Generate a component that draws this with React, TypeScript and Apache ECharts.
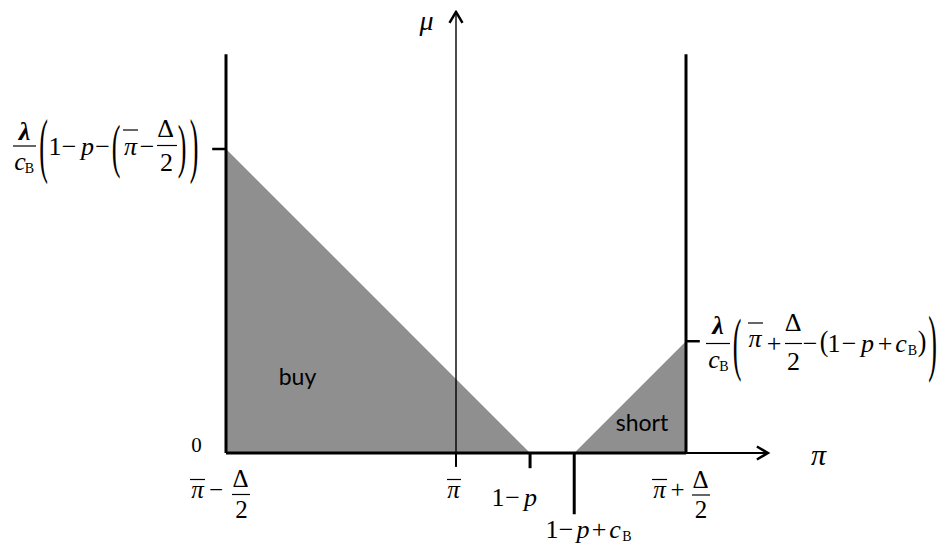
import React, { useEffect, useRef } from 'react';
import * as echarts from 'echarts';

// ---- data (abstract units: π̄ − Δ/2 = 0, π̄ + Δ/2 = 1, λ/c_B = 1) ----
const boundaryX = [0, 1]; // π̄ − Δ/2, π̄ + Δ/2
const piBarX = 0.5; // π̄
const thresholdX = [0.661, 0.757]; // 1 − p, 1 − p + c_B
const lambdaOverCB = 1;
const boundaryTop = 0.867;
const piAxisEnd = 1.178;
const muAxisEnd = 0.959;
const tickDepth = [-0.03, -0.033, -0.133]; // below π̄, 1 − p, 1 − p + c_B
const sideTickLen = 0.03;

const buyTop = lambdaOverCB * (thresholdX[0] - boundaryX[0]);
const shortTop = lambdaOverCB * (boundaryX[1] - thresholdX[1]);

const GRAY = '#8f8f8f';
const UNIT = 460; // px per data unit (for arrow sizes)
const arrowLen = 11 / UNIT;
const arrowHalf = 6.5 / UNIT;

function g(text: string, cx: number, base: number, o: any = {}) {
  const fs = o.fs ?? 26;
  const k = o.sans ? 0.387 : 0.3375;
  const fam = o.sans ? '"Lato"' : '"Liberation Serif"';
  const font = `${o.it ? 'italic ' : ''}${o.bold ? 'bold ' : ''}${fs}px ${fam}`;
  return {
    type: 'text',
    x: cx,
    y: base - k * fs,
    silent: true,
    z: 10,
    style: {
      text,
      font,
      fill: '#000',
      align: 'center',
      verticalAlign: 'middle',
    },
  };
}

function paren(ch: string, cx: number, top: number, bottom: number, fs = 26) {
  const sy = (bottom - top) / (0.87 * fs);
  const anchor = (top + bottom) / 2 - 0.0875 * fs * sy;
  return { ...g(ch, cx, 0, { fs }), y: anchor, scaleY: sy };
}

function hline(x1: number, x2: number, y: number, w = 1.2) {
  return {
    type: 'line',
    silent: true,
    z: 10,
    shape: { x1, y1: y, x2, y2: y },
    style: { stroke: '#000', lineWidth: w },
  };
}

const labelEls: any[] = [
  // left formula  λ/c_B (1 − p − (π̄ − Δ/2))
  g('λ', 24.5, 140, { it: 1, bold: 1 }),
  hline(13, 36, 146),
  g('c', 20, 170, { it: 1 }),
  g('B', 29.5, 173, { fs: 14 }),
  paren('(', 43.5, 120, 182),
  g('1', 55, 155),
  g('−', 69, 155),
  g('p', 87.5, 155, { it: 1 }),
  g('−', 102.5, 155),
  paren('(', 116, 125, 177),
  g('π', 130.5, 155, { it: 1 }),
  hline(123, 138, 130),
  g('−', 147, 155),
  g('Δ', 165.5, 137),
  hline(157, 177, 145.5),
  g('2', 166.5, 171),
  paren(')', 182, 125, 177),
  paren(')', 194, 120, 182),

  // right formula  λ/c_B (π̄ + Δ/2 − (1 − p + c_B))
  g('λ', 718, 334, { it: 1, bold: 1 }),
  hline(706, 730, 343.5),
  g('c', 714, 368, { it: 1 }),
  g('B', 724, 371, { fs: 14 }),
  paren('(', 737, 319, 380),
  g('π', 755, 347, { it: 1 }),
  hline(748, 763, 323),
  g('+', 774, 352),
  g('Δ', 793, 331),
  hline(785, 802, 343.5),
  g('2', 793.5, 370),
  g('−', 810, 352),
  paren('(', 824, 332, 357),
  g('1', 834, 352),
  g('−', 849, 352),
  g('p', 867.5, 352, { it: 1 }),
  g('+', 885, 352),
  g('c', 901, 352, { it: 1 }),
  g('B', 912.5, 355, { fs: 14 }),
  paren(')', 922, 332, 357),
  paren(')', 932.5, 317, 381),

  // axis names and zero
  g('μ', 426.5, 30, { it: 1, fs: 28 }),
  g('π', 818.5, 465, { it: 1, fs: 30 }),
  g('0', 196.5, 452, { fs: 21 }),

  // region labels
  g('buy', 297.5, 385, { sans: 1, fs: 23 }),
  g('short', 642, 431, { sans: 1, fs: 23 }),

  // x labels: π̄ − Δ/2
  g('π', 197.5, 498, { it: 1, fs: 25 }),
  hline(190, 205, 479.5),
  g('−', 216, 498, { fs: 25 }),
  g('Δ', 240.5, 487, { fs: 25 }),
  hline(232, 250, 494.5),
  g('2', 241.5, 518, { fs: 25 }),
  // π̄
  g('π', 453.5, 498, { it: 1, fs: 25 }),
  hline(447, 461, 479.5),
  // 1 − p
  g('1', 498, 506),
  g('−', 512.5, 506),
  g('p', 530.5, 506, { it: 1 }),
  // 1 − p + c_B
  g('1', 552, 538),
  g('−', 566, 538),
  g('p', 583, 538, { it: 1 }),
  g('+', 599, 538),
  g('c', 615, 538, { it: 1 }),
  g('B', 627, 541, { fs: 14 }),
  // π̄ + Δ/2
  g('π', 659.5, 498, { it: 1, fs: 25 }),
  hline(652, 667, 479.5),
  g('+', 677.5, 498, { fs: 25 }),
  g('Δ', 700.5, 488, { fs: 25 }),
  hline(692, 710, 495),
  g('2', 701, 518, { fs: 25 }),
];

function seg(data: number[][], width: number, extra: any = {}) {
  return {
    type: 'line',
    data,
    symbol: 'none',
    silent: true,
    animation: false,
    z: 3,
    lineStyle: { color: '#000', width, cap: 'butt', join: 'miter' },
    ...extra,
  };
}

function area(data: number[][]) {
  return {
    type: 'line',
    data,
    symbol: 'none',
    silent: true,
    z: 1,
    lineStyle: { width: 0, opacity: 0 },
    areaStyle: { color: GRAY, opacity: 1, origin: 0 },
  };
}

export default function App() {
  const ref = useRef<HTMLDivElement>(null);
  useEffect(() => {
    if (!ref.current) return;
    const chart = echarts.init(ref.current, undefined, { renderer: 'svg' });
    const hiddenAxis = {
      type: 'value',
      axisLine: { show: false },
      axisTick: { show: false },
      axisLabel: { show: false },
      splitLine: { show: false },
    };
    chart.setOption({
      animation: false,
      backgroundColor: '#fff',
      grid: { left: 203, right: 167, top: 11.4, bottom: 22 },
      xAxis: { ...hiddenAxis, min: -0.05, max: 1.2 },
      yAxis: { ...hiddenAxis, min: -0.15, max: 0.96 },
      series: [
        area([
          [boundaryX[0], buyTop],
          [thresholdX[0], 0],
        ]),
        area([
          [thresholdX[1], 0],
          [boundaryX[1], shortTop],
        ]),
        // μ axis (thin) and its arrow
        seg([
          [piBarX, tickDepth[0]],
          [piBarX, muAxisEnd],
        ], 1.4),
        seg([
          [piBarX - arrowHalf, muAxisEnd - arrowLen],
          [piBarX, muAxisEnd],
          [piBarX + arrowHalf, muAxisEnd - arrowLen],
        ], 2.5),
        seg([
          [piBarX, 0],
          [piBarX, tickDepth[0]],
        ], 2),
        // π axis
        seg([
          [boundaryX[0], 0],
          [boundaryX[1], 0],
        ], 3),
        seg([
          [boundaryX[1], 0],
          [piAxisEnd, 0],
        ], 2),
        seg([
          [piAxisEnd - arrowLen, arrowHalf],
          [piAxisEnd, 0],
          [piAxisEnd - arrowLen, -arrowHalf],
        ], 2.5),
        // bounds
        seg([
          [boundaryX[0], 0],
          [boundaryX[0], boundaryTop],
        ], 3),
        seg([
          [boundaryX[1], 0],
          [boundaryX[1], boundaryTop],
        ], 3),
        // ticks
        seg([
          [thresholdX[0], 0],
          [thresholdX[0], tickDepth[1]],
        ], 3),
        seg([
          [thresholdX[1], 0],
          [thresholdX[1], tickDepth[2]],
        ], 3),
        seg([
          [boundaryX[0] - sideTickLen, buyTop],
          [boundaryX[0], buyTop],
        ], 2.5),
        seg([
          [boundaryX[1], shortTop],
          [boundaryX[1] + sideTickLen, shortTop],
        ], 2.5),
      ],
      graphic: { elements: labelEls },
    });
    return () => chart.dispose();
  }, []);
  return (
    <div
      ref={ref}
      style={{ position: 'absolute', left: 0, top: 0, width: 945, height: 544 }}
    />
  );
}
